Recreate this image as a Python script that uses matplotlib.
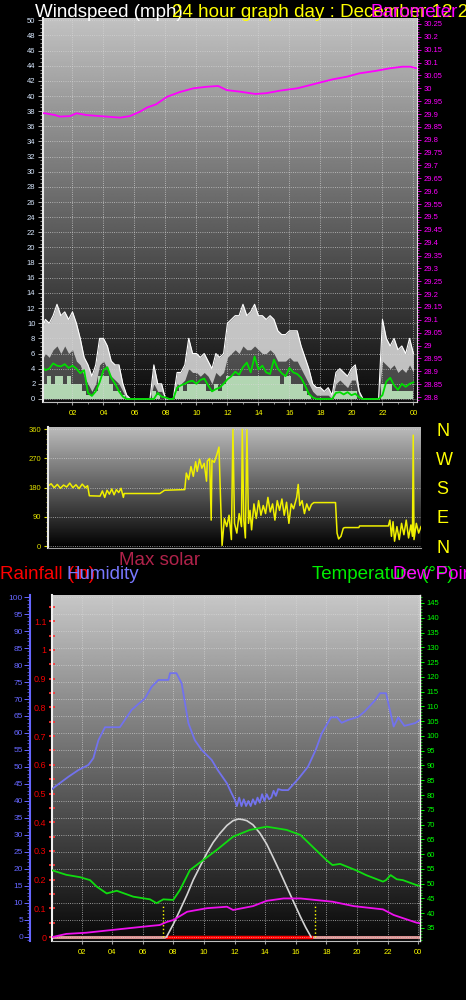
import numpy as np
import matplotlib
matplotlib.use('Agg')
import matplotlib.pyplot as plt
from matplotlib.ticker import MultipleLocator, FuncFormatter, FixedLocator

plt.rcParams['font.family'] = ['Liberation Sans', 'DejaVu Sans']

# ---------------- data ----------------
hour_ticks = [2, 4, 6, 8, 10, 12, 14, 16, 18, 20, 22, 24]
hour_labels = ['02', '04', '06', '08', '10', '12', '14', '16', '18', '20', '22', '00']

# wind, quarter-hour samples (mph)
wind_t = np.linspace(0, 24, 97)
gust_hi = [9, 10.5, 10, 11, 12.5, 11, 11.5, 10.5, 11.5, 10,
           8, 5.5, 4.5, 3, 4.5, 8, 8, 7, 5, 4.5,
           4.5, 2, 0.5, 0, 0, 0, 0, 0, 0, 4.5,
           2, 2, 0, 0, 0, 3.5, 3.5, 4.5, 8, 6,
           6, 5.5, 6, 5, 4, 6, 5.5, 6, 10, 10.5,
           11, 11, 12.5, 11, 11.5, 12.5, 11, 11, 10.5, 11,
           10.5, 9, 8.5, 8.5, 9, 9, 9, 7, 5.5, 4,
           2, 1.5, 1.5, 1, 1.5, 0.5, 3.5, 4, 3.5, 3,
           4, 4.5, 1, 0, 0, 0, 0, 0, 10.5, 8,
           7, 8, 6.5, 7, 6, 8, 6]
gust_lo = [5, 6, 5.5, 6.5, 7, 6, 7, 6, 6.5, 5,
           4.5, 3, 2, 1, 2, 4.5, 5, 4, 3, 2.5,
           2, 1, 0, 0, 0, 0, 0, 0, 0, 2,
           1, 1, 0, 0, 0, 2, 2, 2.5, 4, 3.5,
           3.5, 3, 3.5, 3, 2, 3.5, 3, 3.5, 5.5, 6,
           6.5, 6, 7, 6.5, 6.5, 7, 6.5, 6, 6, 6.5,
           6, 5, 5, 5, 5.5, 5, 5, 4, 3, 2,
           1, 0.5, 0.5, 0.5, 0.5, 0, 2, 2.5, 2, 1.5,
           2.5, 2.5, 0.5, 0, 0, 0, 0, 0, 5, 4.5,
           4, 4.5, 3.5, 4, 3.5, 4.5, 3.5]
wind_speed = [2, 2, 3, 2, 3, 3, 2, 3, 2, 2,
              2, 1, 0.5, 0.5, 1, 3, 3, 3, 2, 1,
              1, 0.5, 0, 0, 0, 0, 0, 0, 0, 1,
              0.5, 0, 0, 0, 0, 1, 2, 1, 2, 2,
              2, 2, 2, 1, 1, 2, 1, 2, 3, 3,
              3, 3, 3, 3, 3, 3, 3, 3, 3, 3,
              3, 3, 2, 3, 3, 2, 2, 2, 1, 0.5,
              0, 0, 0, 0, 0, 0, 1, 1, 1, 1,
              1, 1, 0, 0, 0, 0, 0, 0, 2, 2,
              2, 1, 1, 1, 1, 1, 1]
wind_avg = [4.4, 3.8, 4.0, 4.7, 4.4, 4.3, 4.6, 4.1, 4.4, 4.0,
            3.4, 3.8, 0.8, 0.4, 1.0, 2.2, 3.8, 4.2, 2.8, 2.0,
            1.0, 0.3, 0, 0, 0, 0, 0, 0, 0, 0,
            0.8, 0.3, 0.2, 0, 0, 1.5, 1.8, 2.0, 2.3, 2.4,
            2.0, 2.5, 2.7, 1.8, 1.0, 1.3, 1.5, 2.0, 2.6, 3.0,
            3.6, 3.2, 4.2, 4.8, 3.5, 5.6, 3.9, 4.4, 3.5, 3.3,
            5.2, 4.0, 3.4, 3.0, 4.1, 3.5, 3.3, 2.8, 1.8, 0.7,
            0.2, 0, 0, 0, 0, 0, 0.8, 0.9, 0.6, 0.9,
            0.5, 0.7, 0.2, 0, 0, 0, 0, 0, 0.5, 2.3,
            2.8, 1.8, 1.2, 2.0, 1.6, 2.0, 2.2]

# barometer (in)
press_t = [0.1, 0.23, 0.87, 1.19, 1.84, 2.27, 2.9, 4.2, 5.06, 5.7, 6.35, 6.8, 7.4, 8.1,
           8.9, 9.8, 10.66, 11.4, 11.95, 12.8, 13.8, 14.5, 15.4, 16.5, 17.1, 18.2,
           18.8, 19.7, 20.5, 21.6, 22.5, 23.3, 23.8, 24.2]
press_v = [29.903, 29.903, 29.896, 29.890, 29.892, 29.903, 29.896, 29.890, 29.886, 29.892,
           29.909, 29.925, 29.938, 29.967, 29.985, 30.000, 30.006, 30.009, 29.993, 29.987,
           29.978, 29.981, 29.991, 30.000, 30.009, 30.026, 30.035, 30.045, 30.058, 30.068,
           30.078, 30.084, 30.084, 30.078]

# wind direction (deg)
dir_t = [0.0, 0.2, 0.4, 0.6, 0.8, 1.0, 1.2, 1.4, 1.6, 1.8,
         2.0, 2.2, 2.4, 2.55, 2.66, 3.35, 3.5, 3.65, 3.8, 3.95,
         4.1, 4.25, 4.4, 4.55, 4.7, 4.85, 4.9, 7.2, 7.5, 8.8,
         8.9, 9.05, 9.2, 9.35, 9.5, 9.6, 9.75, 9.9, 10.05, 10.2,
         10.25, 10.4, 10.5, 10.55, 10.7, 10.85, 11.0, 11.1, 11.2, 11.35,
         11.5, 11.65, 11.8, 11.9, 12.0, 12.15, 12.3, 12.45, 12.5, 12.6,
         12.7, 12.8, 12.9, 13.0, 13.1, 13.25, 13.4, 13.55, 13.7, 13.85,
         14.0, 14.15, 14.3, 14.45, 14.6, 14.75, 14.9, 15.05, 15.2, 15.35,
         15.5, 15.65, 15.8, 16.0, 16.1, 16.2, 16.35, 16.5, 16.65, 16.8,
         16.95, 17.1, 18.5, 18.6, 18.7, 18.85, 19.0, 19.1, 20.0, 20.05,
         21.9, 22.0, 22.1, 22.2, 22.3, 22.45, 22.6, 22.75, 22.9, 23.05,
         23.2, 23.35, 23.45, 23.5, 23.55, 23.7, 23.85, 24.0]
dir_v = [185, 192, 180, 190, 178, 188, 182, 194, 180, 189,
         177, 191, 180, 186, 155, 154, 170, 150, 172, 160,
         176, 158, 174, 165, 178, 150, 162, 162, 172, 174,
         225, 205, 245, 215, 260, 230, 268, 240, 255, 200,
         262, 270, 80, 265, 258, 280, 305, 150, 2, 85,
         60, 95, 20, 360, 70, 40, 100, 60, 360, 80,
         25, 358, 70, 110, 50, 130, 85, 140, 95, 125,
         100, 150, 105, 130, 80, 140, 110, 145, 95, 135,
         70, 130, 115, 150, 190, 125, 140, 100, 130, 110,
         128, 134, 134, 40, 22, 30, 55, 57, 57, 62,
         62, 80, 30, 75, 15, 60, 20, 70, 35, 80,
         25, 65, 30, 342, 20, 70, 40, 60]
dir_ticks = [0, 90, 180, 270, 360]
dir_labels = ['0', '90', '180', '270', '360']
compass_labels = ['N', 'E', 'S', 'W', 'N']

# humidity (%)
hum_t = [0.07, 0.26, 1.13, 1.79, 2.44, 2.77, 3.1, 3.53, 4.5, 5.27,
         6.14, 6.58, 7.02, 7.67, 7.78, 8.2, 8.54, 8.98, 9.4, 9.85,
         10.5, 10.9, 11.5, 11.8, 12.0, 12.15, 12.3, 12.45, 12.6, 12.75,
         12.9, 13.05, 13.2, 13.35, 13.5, 13.65, 13.8, 13.95, 14.1, 14.25,
         14.4, 14.55, 14.7, 14.85, 15.1, 15.5, 16.2, 16.8, 17.3, 17.7,
         18.3, 18.7, 19.0, 19.4, 20.1, 20.5, 21.2, 21.5, 21.9, 22.05,
         22.4, 22.7, 23.1, 23.8, 24.1]
hum_v = [43.5, 44.2, 47.1, 49.1, 50.6, 52.6, 57.9, 61.7, 61.7, 66.8,
         70.2, 73.6, 75.6, 75.6, 77.6, 77.6, 74.6, 62.9, 57.9, 55.0,
         52.1, 49.1, 45.2, 42.3, 40.5, 38.5, 41.0, 38.5, 40.5, 38.5,
         40.0, 38.5, 40.5, 39.0, 41.0, 39.5, 42.0, 40.0, 42.0, 40.5,
         41.0, 43.0, 41.5, 43.5, 43.2, 43.2, 46.7, 50.1, 55.0, 59.9,
         64.6, 64.6, 63.0, 63.8, 64.8, 66.3, 69.7, 71.7, 71.7, 68.7,
         61.9, 64.6, 62.1, 62.9, 63.8]

# temperature and dew point (F)
temp_t = [0.07, 0.15, 1.0, 1.9, 2.55, 2.99, 3.64, 4.3, 5.38, 6.47,
          6.9, 7.34, 7.99, 8.43, 9.08, 9.95, 10.83, 11.9, 13.0, 14.1,
          15.4, 16.3, 17.1, 18.0, 18.4, 18.9, 20.0, 20.6, 21.7, 21.9,
          22.2, 22.6, 23.0, 23.9, 24.1]
temp_v = [54.5, 54.4, 53.0, 52.2, 51.2, 49.0, 46.7, 47.6, 45.6, 44.7,
          43.4, 44.7, 44.5, 47.9, 54.6, 58.0, 61.4, 65.9, 68.2, 69.3,
          68.2, 66.5, 62.5, 58.0, 56.3, 56.7, 54.4, 52.9, 50.7, 51.2,
          52.9, 51.5, 51.2, 49.5, 49.3]
dew_t = [0.07, 0.15, 1.0, 2.3, 4.3, 6.5, 7.1, 7.6, 8.0, 8.9,
         10.2, 11.5, 11.9, 13.2, 14.1, 15.2, 16.3, 18.4, 19.8, 21.7,
         22.4, 23.2, 23.9, 24.1]
dew_v = [32.0, 32.0, 33.0, 33.4, 34.5, 35.7, 36.0, 37.1, 37.7, 40.5,
         41.7, 42.2, 41.1, 42.4, 44.2, 45.0, 45.0, 43.9, 42.4, 41.3,
         39.4, 38.0, 36.8, 36.6]

# max solar (W/m2)
solar_t = [7.55, 8.0, 8.43, 8.9, 9.3, 9.75, 10.18, 10.6, 11.05, 11.5, 11.9, 12.25,
           12.55, 12.8, 13.2, 13.66, 14.1, 14.5, 14.95, 15.4, 15.85, 16.3, 16.65, 17.0]
solar_v = [0, 38, 79, 125, 168, 208, 246, 278, 305, 328, 342, 347,
           345, 342, 330, 305, 273, 236, 193, 148, 104, 60, 28, 0]

# rainfall (in)
rain_t = [0.07, 24.1]
rain_v = [0.0, 0.0]
rain_day_t = [7.6, 17.0]
rain_day_v = [0.0, 0.0]
sun_marks = [7.32, 17.25]

# ---------------- figure ----------------
W, H = 466, 1000
fig = plt.figure(figsize=(W / 100, H / 100), dpi=100, facecolor='black')


def px_rect(x0, y0, x1, y1):
    return [x0 / W, 1 - y1 / H, (x1 - x0) / W, (y1 - y0) / H]


def gradient_bg(rect, top, bottom):
    bg = fig.add_axes(rect, zorder=-5)
    g = np.linspace(top, bottom, 256).reshape(-1, 1)
    bg.imshow(g, cmap='gray', vmin=0, vmax=1, aspect='auto',
              extent=[0, 1, 0, 1], interpolation='bilinear')
    bg.set_axis_off()
    return bg


def trim_fmt(v, p):
    s = '%.2f' % v
    s = s.rstrip('0').rstrip('.')
    return '0' if s in ('-0', '') else s


GRID = dict(color='#d8d8d8', ls=':', lw=0.6, alpha=0.85)

# ---------- top panel: wind speed + barometer ----------
r_top = px_rect(43, 18, 417, 402)
gradient_bg(r_top, 0.76, 0.04)
ax1 = fig.add_axes(r_top)
ax1.set_facecolor('none')
ax1.set_xlim(0.097, 24.23)
ax1.set_ylim(-0.4, 50.3)
ax1.fill_between(wind_t, 0, gust_hi, color='#8a8a8a', alpha=0.45, lw=0)
ax1.fill_between(wind_t, gust_lo, gust_hi, color='#f4f4f4', alpha=0.7, lw=0)
ax1.plot(wind_t, gust_hi, color='white', lw=0.8)
ax1.fill_between(wind_t, 0, wind_speed, step='mid', color='#c6f0c6', alpha=0.85, lw=0)
ax1.plot(wind_t, wind_avg, color='#00dd00', lw=1.3)
ax1.yaxis.set_major_locator(MultipleLocator(2))
ax1.yaxis.set_minor_locator(MultipleLocator(0.5))
ax1.xaxis.set_major_locator(FixedLocator(hour_ticks))
ax1.xaxis.set_minor_locator(MultipleLocator(1))
ax1.set_xticklabels(hour_labels)
ax1.tick_params(axis='y', which='major', colors='#c8c8c8', labelcolor='#d8e8ff',
                labelsize=5.5, length=3.5, width=0.6, pad=2)
ax1.tick_params(axis='y', which='minor', colors='#c8c8c8', length=2, width=0.5)
ax1.tick_params(axis='x', which='major', colors='#a0a0a0', labelcolor='#ffff00',
                labelsize=5.5, length=2.5, pad=3)
ax1.tick_params(axis='x', which='minor', colors='#a0a0a0', length=1.5)
ax1.grid(True, which='major', **GRID)
ax1.spines['left'].set_color('#e8e8e8')
ax1.spines['left'].set_linewidth(1.5)
ax1.spines['bottom'].set_color('#c0c0c0')
ax1.spines['top'].set_visible(False)
ax1.spines['right'].set_visible(False)

ax1p = ax1.twinx()
ax1p.set_ylim(28.7806, 30.2733)
ax1p.plot(press_t, press_v, color='#ff00ff', lw=1.3)
ax1p.yaxis.set_major_locator(MultipleLocator(0.05))
ax1p.yaxis.set_minor_locator(MultipleLocator(0.01))
ax1p.yaxis.set_major_formatter(FuncFormatter(trim_fmt))
ax1p.tick_params(axis='y', which='major', colors='#ff00ff', labelsize=5.5,
                 length=3, width=0.6, pad=2)
ax1p.tick_params(axis='y', which='minor', colors='#ff00ff', length=1.5, width=0.5)
for s in ('left', 'top', 'bottom'):
    ax1p.spines[s].set_visible(False)
ax1p.spines['right'].set_color('#e0e0e0')
ax1p.spines['right'].set_linewidth(0.8)

# ---------- middle panel: wind direction ----------
r_mid = px_rect(48, 427, 421, 548)
gradient_bg(r_mid, 0.74, 0.0)
ax2 = fig.add_axes(r_mid)
ax2.set_facecolor('none')
ax2.set_xlim(0, 24)
ax2.set_ylim(-6, 367)
ax2.plot(dir_t, dir_v, color='#f0f000', lw=1.1)
ax2.set_yticks(dir_ticks)
ax2.set_yticklabels(dir_labels)
ax2.yaxis.set_minor_locator(MultipleLocator(15))
ax2.set_xticks([])
ax2.tick_params(axis='y', which='major', colors='#e0e000', labelsize=5.5, length=3, pad=2)
ax2.tick_params(axis='y', which='minor', colors='#c0c000', length=1.5)
ax2.grid(True, axis='y', **GRID)
ax2.spines['left'].set_color('#e8e8e8')
ax2.spines['left'].set_linewidth(1.5)
ax2.spines['bottom'].set_color('#a0a0a0')
ax2.spines['top'].set_visible(False)
ax2.spines['right'].set_visible(False)

ax2r = ax2.twinx()
ax2r.set_ylim(-6, 367)
ax2r.set_yticks(dir_ticks)
ax2r.set_yticklabels(compass_labels)
ax2r.tick_params(axis='y', colors='#ffff00', labelsize=13, length=0, pad=11)
for s in ax2r.spines.values():
    s.set_visible(False)

# ---------- bottom panel: rain / humidity / temp / solar ----------
r_bot = px_rect(52, 595, 420, 941)
gradient_bg(r_bot, 0.78, 0.03)
ax3 = fig.add_axes(r_bot)
ax3.set_facecolor('none')
ax3.set_xlim(0.065, 24.12)
ax3.set_ylim(-0.0139, 1.1916)
ax3.plot(rain_t, rain_v, color='#d89090', lw=2.2)
ax3.plot(rain_day_t, rain_day_v, color='#ff0000', lw=2.5)
ax3.vlines(sun_marks, 0, 0.108, colors='#ffff00', linestyles=':', lw=1)
ax3.yaxis.set_major_locator(MultipleLocator(0.1))
ax3.yaxis.set_minor_locator(MultipleLocator(0.05))
ax3.yaxis.set_major_formatter(FuncFormatter(trim_fmt))
ax3.xaxis.set_major_locator(FixedLocator(hour_ticks))
ax3.set_xticklabels(hour_labels)
ax3.tick_params(axis='y', which='major', colors='#ff3030', labelcolor='#ee0000',
                labelsize=6.5, direction='inout', length=4, width=1.2, pad=2)
ax3.tick_params(axis='y', which='minor', colors='#ff3030', direction='inout',
                length=4, width=1.2)
ax3.tick_params(axis='x', colors='#a0a0a0', labelcolor='#ffff00', labelsize=5.5,
                length=2.5, pad=3)
ax3.grid(True, axis='x', **GRID)
ax3.spines['left'].set_color('#f0f0f0')
ax3.spines['left'].set_linewidth(1.5)
ax3.spines['bottom'].set_color('#c0c0c0')
ax3.spines['top'].set_visible(False)
ax3.spines['right'].set_visible(False)

ax3h = ax3.twinx()
ax3h.yaxis.set_ticks_position('left')
ax3h.yaxis.set_label_position('left')
ax3h.spines['left'].set_position(('axes', (30 - 52) / 368))
ax3h.spines['left'].set_color('#6666ff')
ax3h.spines['left'].set_linewidth(1.5)
for s in ('right', 'top', 'bottom'):
    ax3h.spines[s].set_visible(False)
ax3h.set_ylim(-1.18, 100.59)
ax3h.plot(hum_t, hum_v, color='#7272ee', lw=1.3)
ax3h.yaxis.set_major_locator(MultipleLocator(5))
ax3h.yaxis.set_minor_locator(MultipleLocator(1))
ax3h.tick_params(axis='y', which='major', colors='#6666ff', labelsize=6,
                 length=4, width=0.7, pad=1)
ax3h.tick_params(axis='y', which='minor', colors='#6666ff', length=2, width=0.5)
ax3h.grid(True, axis='y', **GRID)

ax3s = ax3.twinx()
ax3s.set_ylim(-11.8, 1005.6)
ax3s.plot(solar_t, solar_v, color='#d4d4d4', lw=1.2)
ax3s.set_axis_off()

ax3t = ax3.twinx()
ax3t.set_ylim(30.6, 147.7)
ax3t.plot(temp_t, temp_v, color='#10dd10', lw=1.3)
ax3t.plot(dew_t, dew_v, color='#ee10ee', lw=1.3)
ax3t.yaxis.set_major_locator(MultipleLocator(5))
ax3t.yaxis.set_minor_locator(MultipleLocator(1))
ax3t.yaxis.set_major_formatter(FuncFormatter(lambda v, p: '%d' % round(v)))
ax3t.tick_params(axis='y', which='major', colors='#00ff00', labelsize=5.5,
                 length=3, width=0.7, pad=2)
ax3t.tick_params(axis='y', which='minor', colors='#00ff00', length=1.5, width=0.5)
for s in ('left', 'top', 'bottom'):
    ax3t.spines[s].set_visible(False)
ax3t.spines['right'].set_color('#f0f0f0')
ax3t.spines['right'].set_linewidth(1)

# ---------- titles ----------
TF = 13.5
yb = 1 - 17 / H
fig.text(35 / W, yb, 'Windspeed (mph)', color='white', fontsize=TF, va='baseline')
fig.text(172 / W, yb, '24 hour graph day : December 12 2', color='#ffff00', fontsize=TF, va='baseline')
fig.text(370 / W, yb, 'Barometer', color='#ff00ff', fontsize=TF, va='baseline')

fig.text(119 / W, 1 - 565 / H, 'Max solar', color='#b0224a', fontsize=TF, va='baseline')
y2 = 1 - 579 / H
fig.text(0, y2, 'Rainfall (in)', color='#ff0000', fontsize=TF, va='baseline')
fig.text(66 / W, y2, 'Humidity', color='#7878ff', fontsize=TF, va='baseline')
fig.text(312 / W, y2, 'Temperature (°F)', color='#00ee00', fontsize=TF, va='baseline')
fig.text(393 / W, y2, 'Dew Point', color='#ff00ff', fontsize=TF, va='baseline')

fig.savefig('out.png', dpi=100, facecolor='black')
